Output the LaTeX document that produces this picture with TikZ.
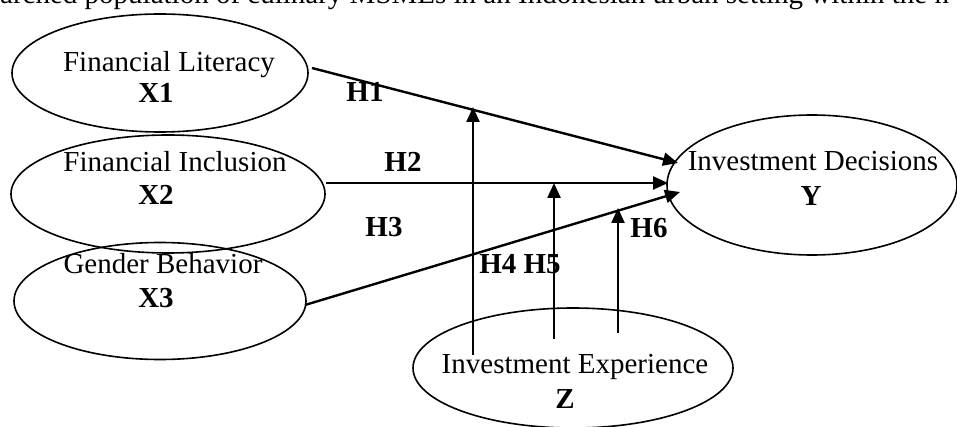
\documentclass[tikz,border=0pt]{standalone}
\usepackage{fontspec}
\setmainfont{Liberation Serif}
\usetikzlibrary{shapes.geometric,arrows.meta}
\begin{document}
\begin{tikzpicture}[x=1pt,y=-1pt,
  oval/.style={draw,ellipse,line width=1.6pt,inner sep=0pt},
  txt/.style={anchor=base,inner sep=0pt,font=\fontsize{29}{33}\selectfont},
  btxt/.style={txt,font=\fontsize{29}{33}\selectfont\bfseries},
  arr/.style={line width=2.4pt,-{Triangle[length=15pt,width=13pt]}}]
\useasboundingbox (0,0) rectangle (957,427);
\clip (0,0) rectangle (957,427);
\node[txt,anchor=base west] (top) at (0,4) {arched population of culinary MSMEs in an Indonesian urban setting within the n};
% ellipses
\node[oval,minimum width=296pt,minimum height=118pt] (x1) at (160,73) {};
\node[oval,minimum width=314pt,minimum height=118pt] (x2) at (168,194) {};
\node[oval,minimum width=292pt,minimum height=117pt] (x3) at (160,301) {};
\node[oval,minimum width=290pt,minimum height=140pt] (yy) at (812,185) {};
\node[oval,minimum width=320pt,minimum height=120pt] (zz) at (573,368) {};
% texts
\node[txt] (t1) at (169,72) {Financial Literacy};
\node[btxt] (t1b) at (156,103) {X1};
\node[txt] (t2) at (175,172) {Financial Inclusion};
\node[btxt] (t2b) at (156,205) {X2};
\node[txt] (t3) at (163,273) {Gender Behavior};
\node[btxt] (t3b) at (156,307) {X3};
\node[txt] (ty) at (813,171) {Investment Decisions};
\node[btxt] (tyb) at (811,206) {Y};
\node[txt] (tz) at (575,373) {Investment Experience};
\node[btxt] (tzb) at (565,408) {Z};
% hypothesis labels
\node[btxt] (h1) at (365,102) {H1};
\node[btxt] (h2) at (403,172) {H2};
\node[btxt] (h3) at (384,237) {H3};
\node[btxt] (h45) at (520,273) {H4 H5};
\node[btxt] (h6) at (649,238) {H6};
% connector end points
\coordinate (a1) at (312,68);
\coordinate (b1) at (678,163);
\coordinate (a2) at (326,183);
\coordinate (b2) at (668,183);
\coordinate (a3) at (305,305);
\coordinate (b3) at (680,192);
\coordinate (v1s) at (473,355);
\coordinate (v1e) at (473,107);
\coordinate (v2s) at (554,339);
\coordinate (v2e) at (554,183);
\coordinate (v3s) at (618,333);
\coordinate (v3e) at (618,208);
\draw[arr] (a1) -- (b1);
\draw[arr] (a2) -- (b2);
\draw[arr] (a3) -- (b3);
\draw[arr] (v1s) -- (v1e);
\draw[arr] (v2s) -- (v2e);
\draw[arr] (v3s) -- (v3e);
\end{tikzpicture}
\end{document}
